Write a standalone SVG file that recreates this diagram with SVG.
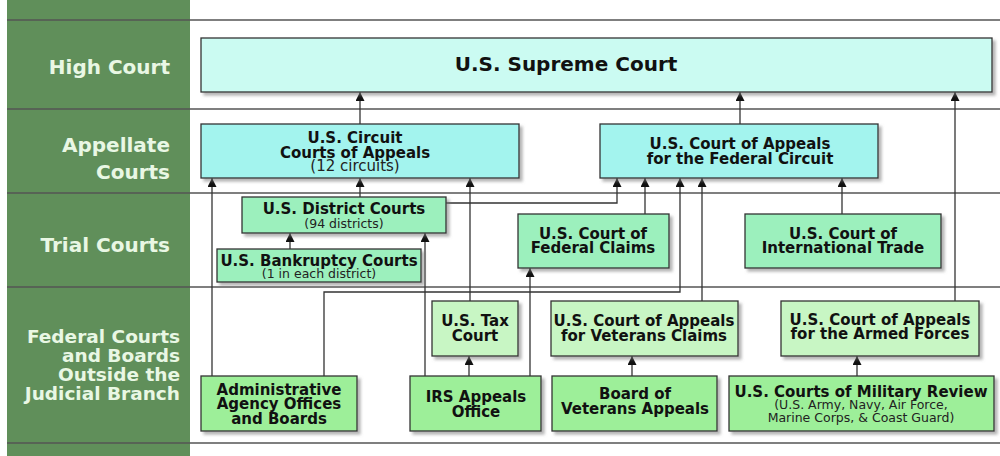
<svg xmlns="http://www.w3.org/2000/svg" width="1000" height="456" viewBox="0 0 1000 456">
<defs>
<filter id="sh" x="-5%" y="-10%" width="115%" height="130%"><feDropShadow dx="3" dy="3" stdDeviation="1.5" flood-color="#777" flood-opacity="0.55"/></filter>
<marker id="ar" markerUnits="userSpaceOnUse" markerWidth="9" markerHeight="9" refX="9" refY="4.5" orient="auto"><path d="M0,0 L9,4.5 L0,9 z" fill="#111"/></marker>
</defs>
<style>
.box{stroke:#333;stroke-width:1.3;filter:url(#sh)}
.sup{fill:#cbfbf2}.app{fill:#a3f4ee}.tri{fill:#9cf0bd}.mid{fill:#c8f6c4}.low{fill:#9def99}
.t{font-family:"DejaVu Sans",Verdana,sans-serif;font-weight:bold;font-size:15px;fill:#111;text-anchor:middle}
.big{font-size:20px}
.s{font-family:"DejaVu Sans",Verdana,sans-serif;font-size:12.5px;fill:#222;text-anchor:middle}
.s15{font-size:15px}
.lab{font-family:"DejaVu Sans",Verdana,sans-serif;font-weight:bold;fill:#e9f7e4;text-anchor:end;font-size:20px}
.lab2{font-size:18.5px}
.row{stroke:#555;stroke-width:1.5}
.c{fill:none;stroke:#333;stroke-width:1.3}
</style>
<rect width="1000" height="456" fill="#ffffff"/>
<rect x="7" y="0" width="183" height="456" fill="#608f5a"/>
<g id="rows">
<line class="row" x1="7" y1="20" x2="1000" y2="20"/>
<line class="row" x1="7" y1="109" x2="1000" y2="109"/>
<line class="row" x1="7" y1="193" x2="1000" y2="193"/>
<line class="row" x1="7" y1="287" x2="1000" y2="287"/>
<line class="row" x1="7" y1="443" x2="1000" y2="443"/>
</g>
<g id="labels">
<text class="lab" x="170" y="74">High Court</text>
<text class="lab" x="170" y="152">Appellate</text>
<text class="lab" x="170" y="179">Courts</text>
<text class="lab" x="170" y="252">Trial Courts</text>
<text class="lab lab2" x="180" y="343">Federal Courts</text>
<text class="lab lab2" x="180" y="362">and Boards</text>
<text class="lab lab2" x="180" y="381">Outside the</text>
<text class="lab lab2" x="180" y="400">Judicial Branch</text>
</g>
<g id="connectors">
<line class="c" x1="360" y1="124" x2="360" y2="92" marker-end="url(#ar)"/>
<line class="c" x1="740" y1="124" x2="740" y2="92" marker-end="url(#ar)"/>
<line class="c" x1="955" y1="301" x2="955" y2="92" marker-end="url(#ar)"/>
<line class="c" x1="212" y1="376" x2="212" y2="178" marker-end="url(#ar)"/>
<line class="c" x1="360" y1="197" x2="360" y2="178" marker-end="url(#ar)"/>
<line class="c" x1="470" y1="301" x2="470" y2="178" marker-end="url(#ar)"/>
<polyline class="c" points="446,203 617,203 617,178" marker-end="url(#ar)"/>
<line class="c" x1="645" y1="214" x2="645" y2="178" marker-end="url(#ar)"/>
<polyline class="c" points="324,376 324,292 680,292 680,178" marker-end="url(#ar)"/>
<line class="c" x1="702" y1="301" x2="702" y2="178" marker-end="url(#ar)"/>
<line class="c" x1="842" y1="214" x2="842" y2="178" marker-end="url(#ar)"/>
<line class="c" x1="290" y1="249" x2="290" y2="233" marker-end="url(#ar)"/>
<line class="c" x1="425" y1="376" x2="425" y2="233" marker-end="url(#ar)"/>
<line class="c" x1="530" y1="376" x2="530" y2="268" marker-end="url(#ar)"/>
<line class="c" x1="469" y1="376" x2="469" y2="356" marker-end="url(#ar)"/>
<line class="c" x1="632" y1="376" x2="632" y2="356" marker-end="url(#ar)"/>
<line class="c" x1="857" y1="376" x2="857" y2="356" marker-end="url(#ar)"/>
</g>
<g id="supreme"><rect class="box sup" x="201" y="38" width="791" height="54"/><text class="t big" x="566" y="71">U.S. Supreme Court</text></g>
<g id="circuit"><rect class="box app" x="201" y="124" width="318" height="54"/><text class="t" x="355" y="143">U.S. Circuit</text><text class="t" x="355" y="158">Courts of Appeals</text><text class="s s15" x="355" y="171">(12 circuits)</text></g>
<g id="fedcircuit"><rect class="box app" x="600" y="124" width="278" height="54"/><text class="t" x="740" y="149">U.S. Court of Appeals</text><text class="t" x="740" y="164">for the Federal Circuit</text></g>
<g id="district"><rect class="box tri" x="242" y="197" width="204" height="36"/><text class="t" x="344" y="214">U.S. District Courts</text><text class="s" x="344" y="228">(94 districts)</text></g>
<g id="bankruptcy"><rect class="box tri" x="217" y="249" width="204" height="33"/><text class="t" x="319" y="266">U.S. Bankruptcy Courts</text><text class="s" x="319" y="278">(1 in each district)</text></g>
<g id="fedclaims"><rect class="box tri" x="518" y="214" width="151" height="54"/><text class="t" x="593" y="239">U.S. Court of</text><text class="t" x="593" y="253">Federal Claims</text></g>
<g id="inttrade"><rect class="box tri" x="745" y="214" width="196" height="54"/><text class="t" x="843" y="239">U.S. Court of</text><text class="t" x="843" y="253">International Trade</text></g>
<g id="taxcourt"><rect class="box mid" x="432" y="301" width="86" height="55"/><text class="t" x="475" y="326">U.S. Tax</text><text class="t" x="475" y="341">Court</text></g>
<g id="vetclaims"><rect class="box mid" x="551" y="301" width="187" height="55"/><text class="t" x="644" y="326">U.S. Court of Appeals</text><text class="t" x="644" y="341">for Veterans Claims</text></g>
<g id="armedforces"><rect class="box mid" x="781" y="301" width="198" height="55"/><text class="t" x="880" y="325">U.S. Court of Appeals</text><text class="t" x="880" y="339">for the Armed Forces</text></g>
<g id="admin"><rect class="box low" x="201" y="376" width="156" height="55"/><text class="t" x="279" y="395">Administrative</text><text class="t" x="279" y="409">Agency Offices</text><text class="t" x="279" y="424">and Boards</text></g>
<g id="irs"><rect class="box low" x="410" y="376" width="131" height="55"/><text class="t" x="476" y="402">IRS Appeals</text><text class="t" x="476" y="417">Office</text></g>
<g id="board"><rect class="box low" x="552" y="376" width="165" height="55"/><text class="t" x="635" y="399">Board of</text><text class="t" x="635" y="414">Veterans Appeals</text></g>
<g id="military"><rect class="box low" x="729" y="376" width="265" height="55"/><text class="t" x="861" y="397">U.S. Courts of Military Review</text><text class="s" x="861" y="409">(U.S. Army, Navy, Air Force,</text><text class="s" x="861" y="422">Marine Corps, &amp; Coast Guard)</text></g>
</svg>
